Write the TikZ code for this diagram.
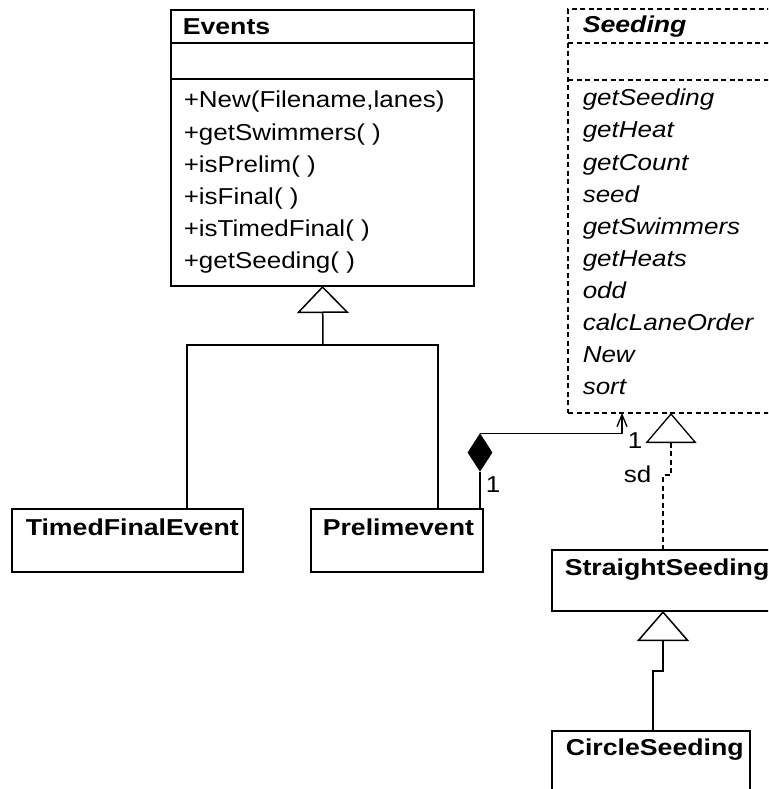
\documentclass[tikz,border=0pt]{standalone}
\usepackage{fontspec}
\setmainfont{Liberation Sans}[FakeStretch=1.13]
\newfontfamily\classfont{Liberation Sans}[FakeStretch=1.16]
\usetikzlibrary{arrows.meta,shapes.geometric}

\begin{document}
\begin{tikzpicture}[x=1pt,y=-1pt,
  line width=1.5pt,
  classbox/.style={draw, anchor=north west, inner sep=0pt, outer sep=0pt},
  abstractbox/.style={classbox, dash pattern=on 5pt off 3.5pt, line width=1.3pt},
  sepline/.style={},
  abstractsep/.style={dash pattern=on 5pt off 3.5pt, line width=1.3pt},
  classname/.style={anchor=base west, inner sep=0pt,
    font=\classfont\fontsize{23}{28}\selectfont\bfseries},
  abstractname/.style={classname,
    font=\classfont\fontsize{23}{28}\selectfont\bfseries\itshape},
  member/.style={anchor=base west, inner sep=0pt, font=\fontsize{23}{28}\selectfont},
  abstractmember/.style={member, font=\fontsize{23}{28}\selectfont\itshape},
  inherit/.style={-{Triangle[open,length=27pt,width=52pt,line width=1.5pt]}},
  inheritlong/.style={-{Triangle[open,length=30pt,width=52pt,line width=1.5pt]}},
  realize/.style={dash pattern=on 5pt off 3.5pt, line width=1.3pt,
    -{Triangle[open,length=30pt,width=51pt,line width=1.3pt,sep=0pt]}},
  navigate/.style={-{Straight Barb[length=12pt,width=10pt,line width=1.3pt]}},
  composite/.style={diamond, draw, fill=black, line width=1pt,
    minimum width=24pt, minimum height=37pt, inner sep=0pt}
]
\useasboundingbox (0,0) rectangle (768,789);
\fill[white] (0,0) rectangle (768,789);
\begin{scope}
\clip (0,0) rectangle (768,789);

% ---- Events ----
\node[classbox, minimum width=303pt, minimum height=276pt] (events) at (171,10) {};
\draw ([yshift=-33pt]events.north west) -- ([yshift=-33pt]events.north east);
\draw ([yshift=-69pt]events.north west) -- ([yshift=-69pt]events.north east);
\node[classname] (eventsname) at (182,35) {Events};
\foreach \m [count=\i from 0] in {{+New(Filename,lanes)},{+getSwimmers( )},
    {+isPrelim( )},{+isFinal( )},{+isTimedFinal( )},{+getSeeding( )}}
  \node[member] (evm\i) at (183,{108+32*\i}) {\m};

% ---- Seeding (abstract) ----
\node[abstractbox, minimum width=206pt, minimum height=404pt] (seeding) at (568,9) {};
\draw[abstractsep] ([yshift=-34pt]seeding.north west) -- ([yshift=-34pt]seeding.north east);
\draw[abstractsep] ([yshift=-71pt]seeding.north west) -- ([yshift=-71pt]seeding.north east);
\node[abstractname] (seedingname) at (582,33) {Seeding};
\foreach \m [count=\i from 0] in {getSeeding,getHeat,getCount,seed,getSwimmers,
    getHeats,odd,calcLaneOrder,New,sort}
  \node[abstractmember] (sdm\i) at (582,{106+32*\i}) {\m};

% ---- Subclasses of Events ----
\node[classbox, minimum width=231pt, minimum height=63pt] (tfe) at (12,509) {};
\node[classname] (tfename) at (25,535) {TimedFinalEvent};
\node[classbox, minimum width=172pt, minimum height=63pt] (pe) at (311,509) {};
\node[classname] (pename) at (322,535) {Prelimevent};

% ---- Seeding implementations ----
\node[classbox, minimum width=222pt, minimum height=61pt] (ss) at (552,550) {};
\node[classname] (ssname) at (564,575) {StraightSeeding};
\node[classbox, minimum width=198pt, minimum height=80pt] (cs) at (552,731) {};
\node[classname] (csname) at (565,755) {CircleSeeding};

% ---- Generalization: Events ----
\coordinate (evjoin) at (323,345);
\draw ([xshift=175pt]tfe.north west) |- (evjoin) -| ([xshift=127pt]pe.north west);
\draw[inherit] (evjoin) -- (events.south);

% ---- Realization: StraightSeeding -> Seeding ----
\coordinate (sdjog) at (671,475);
\draw[realize] ([xshift=111pt]ss.north west) |- (sdjog) -- (seeding.south);
\node[member] (sdlabel) at (623,482) {sd};

% ---- Generalization: CircleSeeding -> StraightSeeding ----
\coordinate (csjog) at (663,671);
\draw[inheritlong] ([xshift=101pt]cs.north west) |- (csjog) -- (ss.south);

% ---- Composition: Prelimevent <>-- Seeding ----
\node[composite] (comp) at (480,452.5) {};
\draw ([xshift=169pt]pe.north west) -- (comp.south);
\draw[navigate] (comp.north) -| ([xshift=54pt]seeding.south west);
\node[member] (multpe) at (485,492) {1};
\node[member] (multsd) at (627,448) {1};
\end{scope}
\end{tikzpicture}
\end{document}
